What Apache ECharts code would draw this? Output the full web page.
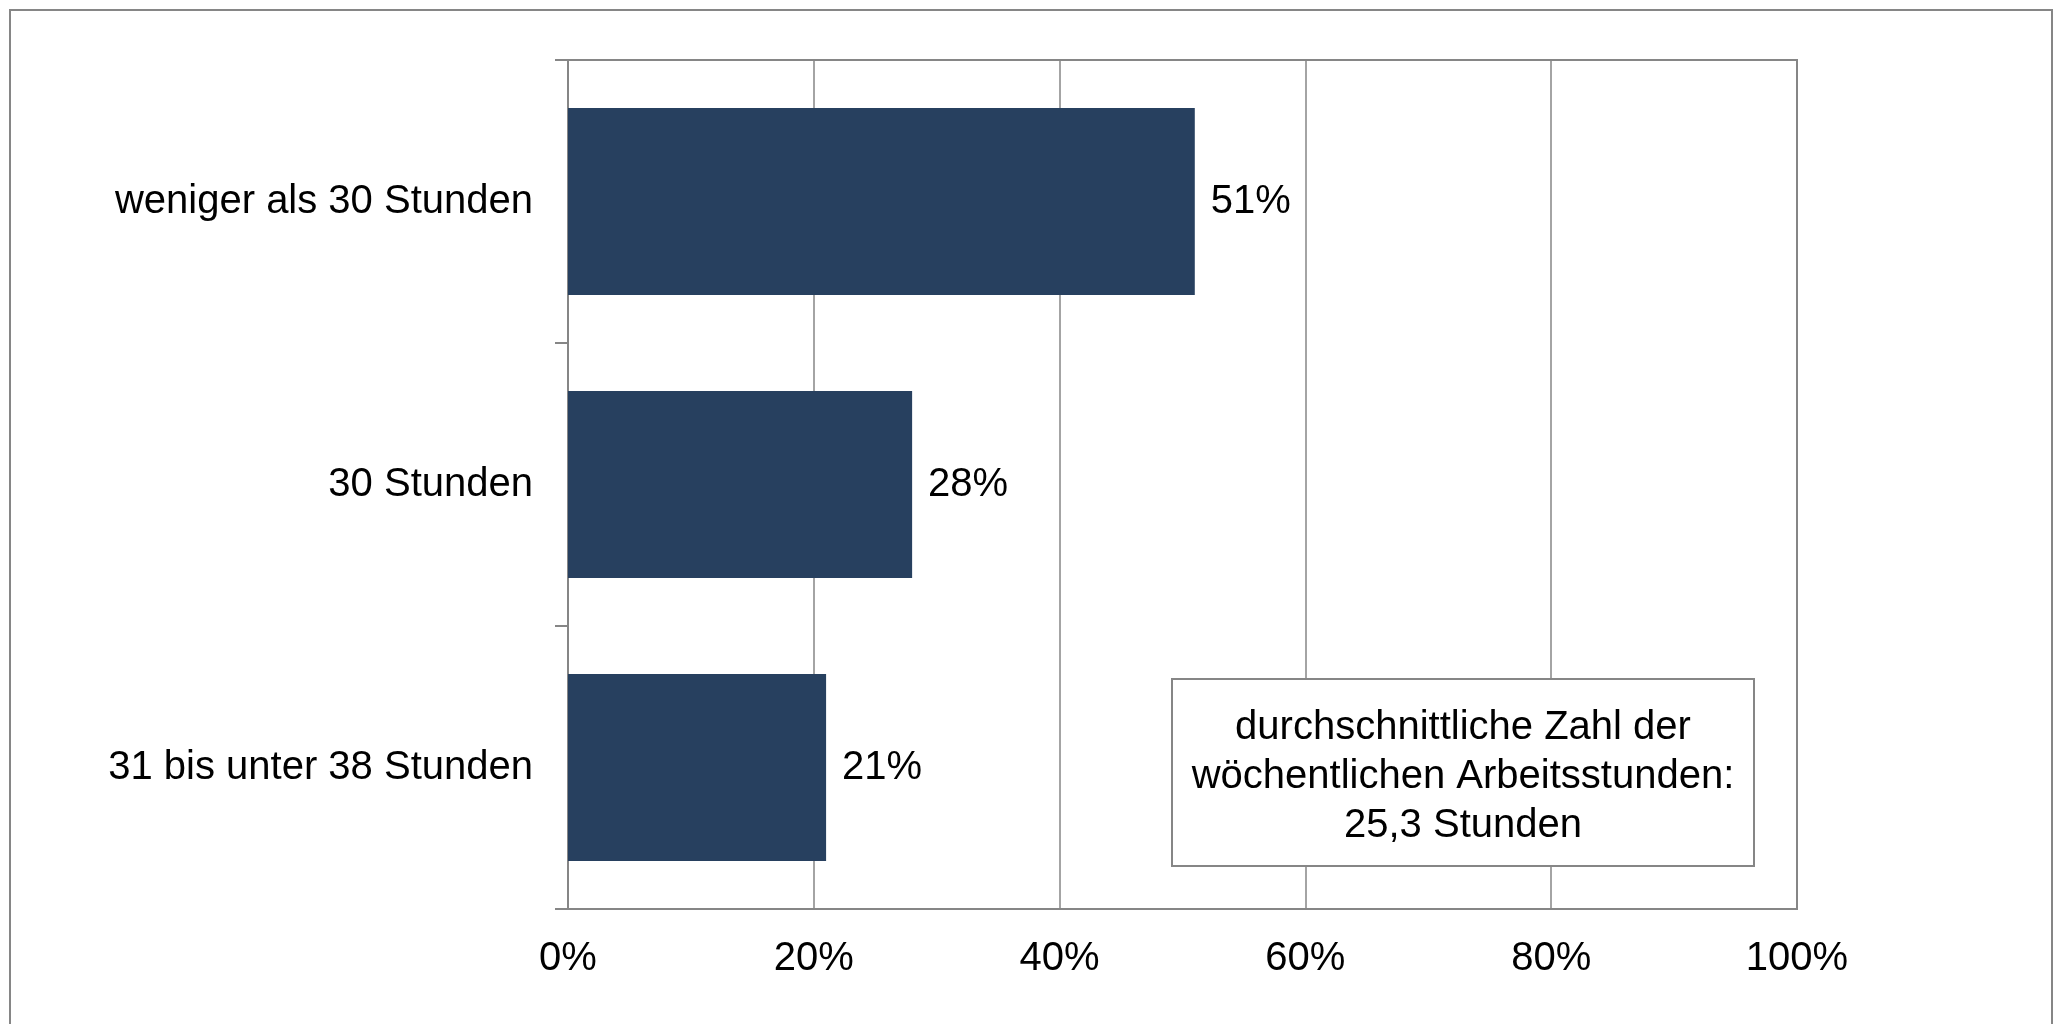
<!DOCTYPE html>
<html>
<head>
<meta charset="utf-8">
<script src="https://cdn.jsdelivr.net/npm/echarts@6/dist/echarts.min.js"></script>
<style>
html,body{margin:0;padding:0;background:#fff;}
#c{width:2063px;height:1024px;}
</style>
</head>
<body>
<div id="c"></div>
<script>
const categories = ['weniger als 30 Stunden', '30 Stunden', '31 bis unter 38 Stunden'];
const values = [51, 28, 21];
const xTicks = [0, 20, 40, 60, 80, 100];
const noteLines = ['durchschnittliche Zahl der', 'wöchentlichen Arbeitsstunden:', '25,3 Stunden'];

const FONT = '"Liberation Sans", Arial, Helvetica, sans-serif';
const FS = 40;
const GRAY = '#868686';
const chart = echarts.init(document.getElementById('c'));
chart.setOption({
  backgroundColor: '#fff',
  animation: false,
  grid: { left: 568, right: 266, top: 60, bottom: 115, show: true, borderColor: GRAY, borderWidth: 2, containLabel: false },
  xAxis: {
    type: 'value', min: xTicks[0], max: xTicks[xTicks.length - 1], interval: 20,
    axisLine: { show: true, lineStyle: { color: GRAY, width: 2 } },
    axisTick: { show: false },
    splitLine: { show: true, lineStyle: { color: GRAY, width: 1.5 } },
    axisLabel: { formatter: '{value}%', color: '#000', fontSize: FS, fontFamily: FONT, margin: 30 }
  },
  yAxis: {
    type: 'category', data: categories, inverse: true,
    axisLine: { show: true, lineStyle: { color: GRAY, width: 2 } },
    axisTick: { show: true, inside: false, length: 13, lineStyle: { color: GRAY, width: 2 } },
    axisLabel: { color: '#000', fontSize: FS, fontFamily: FONT, margin: 35, padding: [6, 0, 0, 0] }
  },
  series: [{
    type: 'bar', data: values, barCategoryGap: '34%',
    itemStyle: { color: '#27405F' },
    label: { show: true, position: 'right', distance: 16, formatter: '{c}%', color: '#000', fontSize: FS, fontFamily: FONT, padding: [6, 0, 0, 0] }
  }],
  graphic: [
    { type: 'rect', shape: { x: 10, y: 10, width: 2042, height: 1030 }, style: { fill: 'none', stroke: GRAY, lineWidth: 2 }, silent: true },
    { type: 'rect', shape: { x: 1172, y: 679, width: 582, height: 187 }, style: { fill: '#fff', stroke: GRAY, lineWidth: 2 }, z: 100 },
    { type: 'text', x: 1463, y: 777, z: 101,
      style: { text: noteLines.join('\n'), align: 'center', verticalAlign: 'middle', fontSize: FS, lineHeight: 49, fontFamily: FONT, fill: '#000' } }
  ]
});
</script>
</body>
</html>
